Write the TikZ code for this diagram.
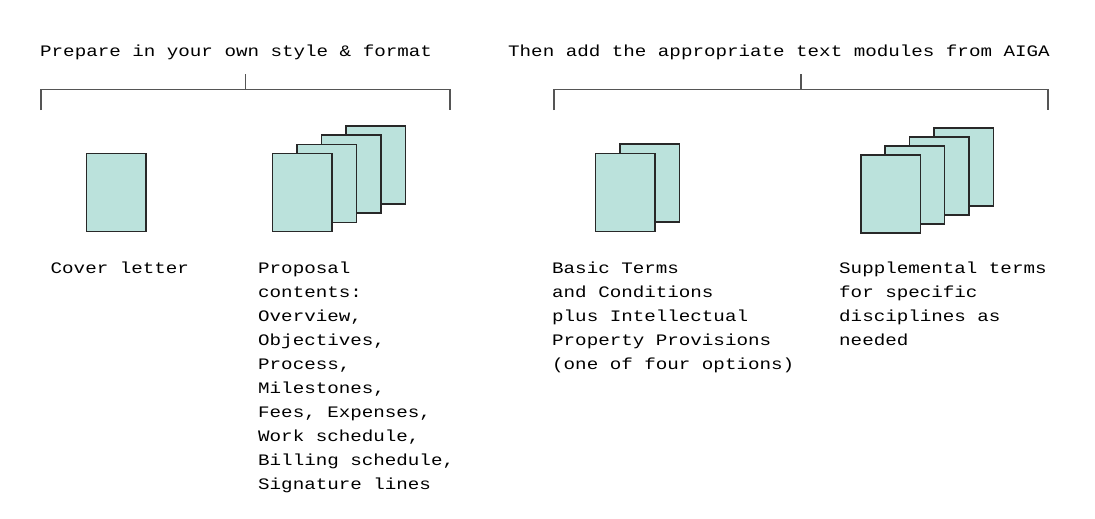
\documentclass[tikz,border=0pt]{standalone}
\usepackage{fontspec}
\newfontfamily\mono[FakeStretch=1.2]{Liberation Mono}
\definecolor{pagefill}{RGB}{187,226,220}
\definecolor{pageline}{RGB}{40,40,40}
\definecolor{brace}{RGB}{85,85,85}
\tikzset{
  page/.style={draw=pageline, fill=pagefill, line width=1.5pt, rectangle,
    minimum width=59.5pt, minimum height=78pt, inner sep=0pt, anchor=north west},
  bracketline/.style={draw=brace, line width=1.4pt},
  label/.style={anchor=base west, inner sep=0pt, font=\mono\fontsize{16}{24}\selectfont},
}
\newcommand{\lines}[1]{\parbox[t]{12cm}{\raggedright #1}}
\begin{document}
\begin{tikzpicture}[x=1pt,y=-1pt]
\fill[white] (0,0) rectangle (1095,519);
\useasboundingbox (0,0) rectangle (1095,519);

% headers
\node[label] (h1) at (40,56.5) {Prepare in your own style \& format};
\node[label] (h2) at (508,56.5) {Then add the appropriate text modules from AIGA};

% left bracket
\coordinate (l1) at (41,110);
\coordinate (l2) at (41,89.5);
\coordinate (l3) at (450,89.5);
\coordinate (l4) at (450,110);
\coordinate (lm) at (245.5,89.5);
\coordinate (lt) at (245.5,74);
\draw[bracketline] (l1) -- (l2) -- (l3) -- (l4);
\draw[bracketline] (lm) -- (lt);

% right bracket
\coordinate (r1) at (554,110);
\coordinate (r2) at (554,89.5);
\coordinate (r3) at (1048,89.5);
\coordinate (r4) at (1048,110);
\coordinate (rm) at (801,89.5);
\coordinate (rt) at (801,74);
\draw[bracketline] (r1) -- (r2) -- (r3) -- (r4);
\draw[bracketline] (rm) -- (rt);

% cover letter
\node[page] (c1) at (85.7,152.7) {};

% proposal stack
\node[page] (p4) at (345.3,125.3) {};
\node[page] (p3) at (320.8,134.4) {};
\node[page] (p2) at (296.2,143.5) {};
\node[page] (p1) at (271.7,152.6) {};

% basic terms stack
\node[page] (b2) at (619.3,143.3) {};
\node[page] (b1) at (594.7,152.7) {};

% supplemental stack
\node[page] (s4) at (933.3,127) {};
\node[page] (s3) at (908.9,136.1) {};
\node[page] (s2) at (884.4,145.2) {};
\node[page] (s1) at (860,154.3) {};

% labels
\node[label] (t1) at (50.5,273) {\lines{Cover letter}};
\node[label] (t2) at (258,273) {\lines{Proposal\\contents:\\Overview,\\Objectives,\\Process,\\Milestones,\\Fees, Expenses,\\Work schedule,\\Billing schedule,\\Signature lines}};
\node[label] (t3) at (552,273) {\lines{Basic Terms\\and Conditions\\plus Intellectual\\Property Provisions\\(one of four options)}};
\node[label] (t4) at (839,273) {\lines{Supplemental terms\\for specific\\disciplines as\\needed}};
\end{tikzpicture}
\end{document}
